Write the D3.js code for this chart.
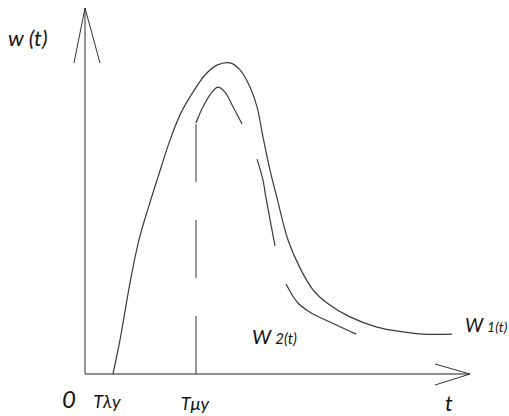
<!DOCTYPE html>
<html><head><meta charset="utf-8">
<script src="https://cdn.jsdelivr.net/npm/d3@7"></script>
<style>
html,body{margin:0;padding:0;background:#fff;}
text{font-family:Lato,"Open Sans",sans-serif;font-style:italic;fill:#151515;}
</style></head>
<body>
<svg id="chart" width="509" height="416"></svg>
<script>
// Curve W1(t)
const w1T = [0.727,0.909,1.169,1.400,1.650,1.896,2.208,2.468,2.727,3.117,3.429,3.766,4.026,4.286,4.468,4.623,4.805,4.987,5.273,5.584,5.922,6.286,6.883,7.584,8.260,8.779,9.532];
const w1W = [0,0.93,2.49,3.66,4.56,5.38,6.39,7.08,7.57,8.17,8.44,8.50,8.31,7.84,7.30,6.48,5.57,4.81,3.66,2.90,2.30,1.94,1.56,1.28,1.15,1.09,1.09];
// Curve W2(t), drawn in three broken pieces
const w2Seg1T = [2.883,3.065,3.299,3.455,3.636,3.844,4.078];
const w2Seg1W = [6.86,7.30,7.70,7.84,7.70,7.30,6.83];
const w2Seg2T = [4.468,4.623,4.701,4.935];
const w2Seg2W = [5.87,5.30,4.81,3.50];
const w2Seg3T = [5.221,5.532,5.844,6.364,7.039];
const w2Seg3W = [2.46,1.94,1.69,1.42,1.09];
// Time marks on the t axis
const tickT = [0, 0.727, 2.883];
const tickLabels = ["0", "Tλy", "Tμy"];
const tauMuW = 6.86;

const svg = d3.select("#chart");
const x = d3.scaleLinear().domain([0,10]).range([85,470]);
const y = d3.scaleLinear().domain([0,10]).range([374,8]);

const line = d3.line().x(d=>x(d[0])).y(d=>y(d[1])).curve(d3.curveCatmullRom.alpha(0.5));
const zip = (a,b)=>a.map((v,i)=>[v,b[i]]);

const axisColor = "#6a6a6a";
// axes
svg.append("line").attr("x1",x(0)).attr("y1",y(0)).attr("x2",x(10)).attr("y2",y(0))
  .attr("stroke",axisColor).attr("stroke-width",1.4);
svg.append("line").attr("x1",x(0)).attr("y1",y(0)).attr("x2",x(0)).attr("y2",y(10))
  .attr("stroke",axisColor).attr("stroke-width",1.4);
// arrow heads
const yTip = [x(0), y(10)];
svg.append("path").attr("d",`M${yTip[0]-11},${yTip[1]+55}L${yTip[0]},${yTip[1]}L${yTip[0]+15},${yTip[1]+55}`)
  .attr("fill","none").attr("stroke","#333").attr("stroke-width",1);
const xTip = [x(10), y(0)];
svg.append("path").attr("d",`M${xTip[0]-35},${xTip[1]-10}L${xTip[0]},${xTip[1]}L${xTip[0]-35},${xTip[1]+11}`)
  .attr("fill","none").attr("stroke","#333").attr("stroke-width",1);

// dashed vertical at tau_mu
svg.append("line").attr("x1",x(tickT[2])).attr("x2",x(tickT[2]))
  .attr("y1",y(0)).attr("y2",y(tauMuW))
  .attr("stroke","#555").attr("stroke-width",1.2).attr("stroke-dasharray","58,38");

const curveStyle = sel => sel.attr("fill","none").attr("stroke","#3a3a3a").attr("stroke-width",1.2);
svg.append("path").attr("d",line(zip(w1T,w1W))).call(curveStyle);
svg.append("path").attr("d",line(zip(w2Seg1T,w2Seg1W))).call(curveStyle);
svg.append("path").attr("d",line(zip(w2Seg2T,w2Seg2W))).call(curveStyle);
svg.append("path").attr("d",line(zip(w2Seg3T,w2Seg3W))).call(curveStyle);

// tick labels
const tickDx = [-16, -6, -1];
const tickSize = [24, 18, 18];
const tickDy = [34, 34, 36];
tickT.forEach((t,i)=>{
  svg.append("text").attr("x",x(t)+tickDx[i]).attr("y",y(0)+tickDy[i])
    .attr("text-anchor","middle").attr("font-size",tickSize[i]).text(tickLabels[i]);
});

// axis titles
svg.append("text").attr("x",8).attr("y",46).attr("font-size",22).text("w (t)");
svg.append("text").attr("x",445).attr("y",411).attr("font-size",22).text("t");

// curve labels
const lab = (px,py,main,sub,s1,s2)=>{
  const t = svg.append("text").attr("x",px).attr("y",py);
  t.append("tspan").attr("font-size",s1).text(main);
  t.append("tspan").attr("font-size",s2).text(sub);
};
lab(252,344,"W ","2(t)",20,15);
lab(465,332,"W ","1(t)",19,14);
</script>
</body></html>
